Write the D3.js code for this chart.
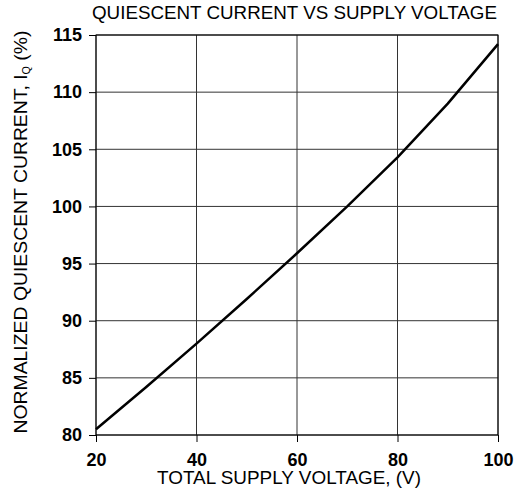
<!DOCTYPE html>
<html>
<head>
<meta charset="utf-8">
<script src="https://cdn.jsdelivr.net/npm/d3@7"></script>
<style>
  body { margin: 0; background: #fff; }
  svg text { font-family: "Liberation Sans", Arial, sans-serif; fill: #000; }
</style>
</head>
<body>
<svg id="chart" width="518" height="495"></svg>
<script>
const voltage = [20, 30, 40, 50, 60, 70, 80, 90, 100];
const current = [80.5, 84.2, 88.0, 91.9, 95.9, 100.0, 104.3, 109.0, 114.2];
const xTicks = [20, 40, 60, 80, 100];
const yTicks = [80, 85, 90, 95, 100, 105, 110, 115];

const svg = d3.select("#chart");
const margin = { top: 35, right: 20, bottom: 60, left: 96 };
const width = 518 - margin.left - margin.right;
const height = 495 - margin.top - margin.bottom;

const g = svg.append("g").attr("transform", `translate(${margin.left},${margin.top})`);

const x = d3.scaleLinear().domain([20, 100]).range([0, width]);
const y = d3.scaleLinear().domain([80, 115]).range([height, 0]);

// grid
g.append("g")
  .selectAll("line")
  .data(xTicks)
  .enter()
  .append("line")
  .attr("x1", d => x(d)).attr("x2", d => x(d))
  .attr("y1", 0).attr("y2", height)
  .attr("stroke", "#333")
  .attr("stroke-width", 1);

g.append("g")
  .selectAll("line")
  .data(yTicks)
  .enter()
  .append("line")
  .attr("x1", 0).attr("x2", width)
  .attr("y1", d => y(d)).attr("y2", d => y(d))
  .attr("stroke", "#333")
  .attr("stroke-width", 1);

g.append("rect")
  .attr("width", width)
  .attr("height", height)
  .attr("fill", "none")
  .attr("stroke", "#000")
  .attr("stroke-width", 1);

// axes
const xAxis = g.append("g")
  .attr("transform", `translate(0,${height})`)
  .call(d3.axisBottom(x).tickValues(xTicks).tickSize(7).tickPadding(11));

const yAxis = g.append("g")
  .call(d3.axisLeft(y).tickValues(yTicks).tickSize(7).tickPadding(7));

[xAxis, yAxis].forEach(a => {
  a.select(".domain").remove();
  a.selectAll("line").attr("stroke", "#000");
  a.selectAll("text")
    .attr("fill", "#000")
    .style("font-size", "18px")
    .style("font-weight", "bold")
    .style("font-family", "'Liberation Sans', Arial, sans-serif");
});

// curve
const line = d3.line()
  .x((d, i) => x(voltage[i]))
  .y(d => y(d));

g.append("path")
  .datum(current)
  .attr("fill", "none")
  .attr("stroke", "#000")
  .attr("stroke-width", 2.5)
  .attr("stroke-linejoin", "round")
  .attr("d", line);

// titles
svg.append("text")
  .attr("x", 294.5)
  .attr("y", 19)
  .attr("text-anchor", "middle")
  .attr("textLength", 405)
  .attr("lengthAdjust", "spacingAndGlyphs")
  .style("font-size", "18px")
  .text("QUIESCENT CURRENT VS SUPPLY VOLTAGE");

svg.append("text")
  .attr("x", 289)
  .attr("y", 484)
  .attr("text-anchor", "middle")
  .attr("textLength", 264)
  .attr("lengthAdjust", "spacingAndGlyphs")
  .style("font-size", "18px")
  .text("TOTAL SUPPLY VOLTAGE, (V)");

const yTitle = svg.append("text")
  .attr("transform", `translate(27,232) rotate(-90)`)
  .attr("text-anchor", "middle")
  .attr("textLength", 403)
  .attr("lengthAdjust", "spacingAndGlyphs")
  .style("font-size", "18px");
yTitle.append("tspan").text("NORMALIZED QUIESCENT CURRENT, I");
yTitle.append("tspan").attr("dy", 3).style("font-size", "10px").text("Q");
yTitle.append("tspan").attr("dy", -3).text(" (%)");
</script>
</body>
</html>
